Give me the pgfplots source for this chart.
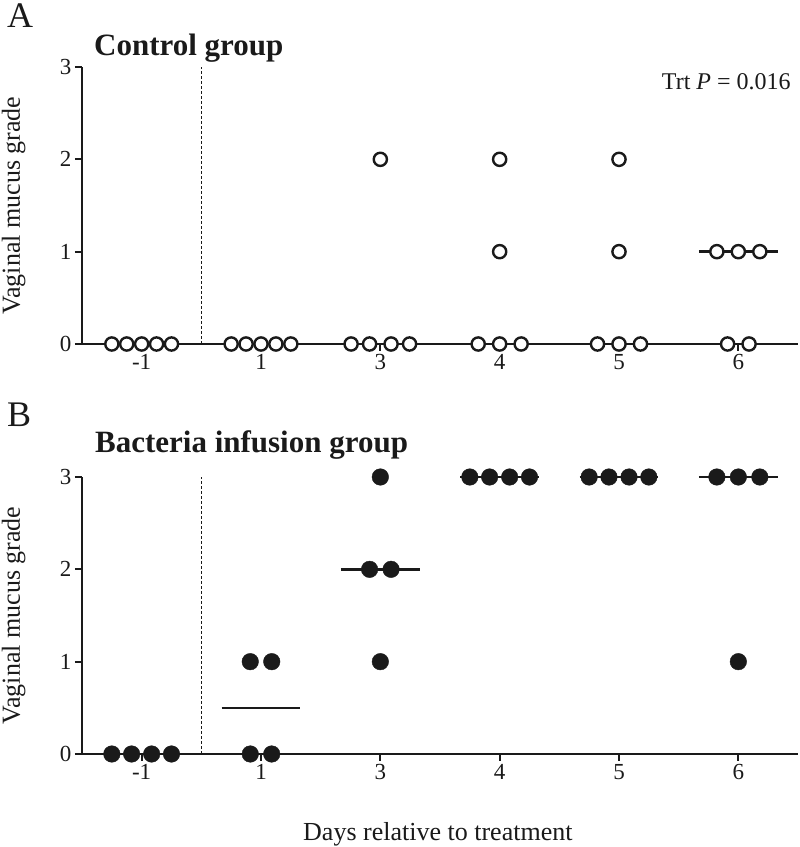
\documentclass[border=0pt]{standalone}
\usepackage{fontspec}
\setmainfont{Liberation Serif}
\usepackage{pgfplots}
\pgfplotsset{compat=1.18}
\definecolor{ink}{HTML}{1A1A1A}
\pgfplotsset{
  panel/.style={
    width=716pt, height=277pt, scale only axis,
    xmin=-0.5, xmax=5.5, ymin=0, ymax=3,
    axis x line*=bottom, axis y line*=left,
    axis line style={line width=2.5pt, ink},
    xtick={0,1,2,3,4,5}, xticklabels={-1,1,3,4,5,6},
    ytick={0,1,2,3}, yticklabels={0,1,2,3},
    tick align=outside, major tick length=7pt,
    tick style={line width=2.2pt, ink},
    tick label style={font=\fontsize{23}{25}\selectfont, text=ink},
    clip=false,
    ylabel={Vaginal mucus grade},
    ylabel style={font=\fontsize{26}{28}\selectfont, text=ink, at={(axis description cs:-0.0956,0.5)}, anchor=center},
  },
  ctl/.style={only marks, mark=*, mark size=6.6pt, mark options={fill=white, draw=ink, line width=2.4pt}},
  bac/.style={only marks, mark=*, mark size=8.3pt, mark options={fill=ink, draw=ink}},
  med/.style={line width=2.5pt, ink},
  vdash/.style={ink, line width=1.1pt, dash pattern=on 3pt off 2pt},
}
\begin{document}
\begin{tikzpicture}
\useasboundingbox (0,0) rectangle (800pt,847pt);

% ---------------- Panel A ----------------
\begin{axis}[panel, at={(82pt,503pt)}, anchor=south west]
\addplot[vdash] coordinates {(0.5,0) (0.5,3)};
\addplot[med] coordinates {(-0.33,0) (0.33,0)};
\addplot[med] coordinates {(0.67,0) (1.33,0)};
\addplot[med] coordinates {(1.67,0) (2.33,0)};
\addplot[med] coordinates {(2.67,0) (3.33,0)};
\addplot[med] coordinates {(3.67,0) (4.33,0)};
\addplot[med] coordinates {(4.67,1) (5.33,1)};
\addplot[ctl] coordinates {
 (-0.25,0) (-0.125,0) (0,0) (0.125,0) (0.25,0)
 (0.75,0) (0.875,0) (1,0) (1.125,0) (1.25,0)
 (2,2) (1.755,0) (1.91,0) (2.09,0) (2.245,0)
 (3,2) (3,1) (2.82,0) (3,0) (3.18,0)
 (4,2) (4,1) (3.82,0) (4,0) (4.18,0)
 (4.82,1) (5,1) (5.18,1) (4.91,0) (5.09,0)
};
\node[anchor=base west, font=\bfseries\fontsize{31}{33}\selectfont, text=ink, inner sep=0pt] at (rel axis cs:0.0168,1.043) {Control group};
\node[anchor=base east, font=\fontsize{24}{26}\selectfont, text=ink, inner sep=0pt] at (rel axis cs:0.990,0.917) {Trt \textit{P} = 0.016};
\end{axis}

% ---------------- Panel B ----------------
\begin{axis}[panel, at={(82pt,93pt)}, anchor=south west,
  xlabel={Days relative to treatment},
  xlabel style={font=\fontsize{26}{28}\selectfont, text=ink, at={(axis description cs:0.497,-0.3105)}, anchor=base, inner sep=0pt}]
\addplot[vdash] coordinates {(0.5,0) (0.5,3)};
\addplot[med] coordinates {(-0.33,0) (0.33,0)};
\addplot[med] coordinates {(0.67,0.5) (1.33,0.5)};
\addplot[med] coordinates {(1.67,2) (2.33,2)};
\addplot[med] coordinates {(2.67,3) (3.33,3)};
\addplot[med] coordinates {(3.67,3) (4.33,3)};
\addplot[med] coordinates {(4.67,3) (5.33,3)};
\addplot[bac] coordinates {
 (-0.25,0) (-0.084,0) (0.084,0) (0.25,0)
 (0.91,1) (1.09,1) (0.91,0) (1.09,0)
 (2,3) (1.91,2) (2.09,2) (2,1)
 (2.75,3) (2.916,3) (3.084,3) (3.25,3)
 (3.75,3) (3.916,3) (4.084,3) (4.25,3)
 (4.82,3) (5,3) (5.18,3) (5,1)
};
\node[anchor=base west, font=\bfseries\fontsize{31}{33}\selectfont, text=ink, inner sep=0pt] at (rel axis cs:0.018,1.090) {Bacteria infusion group};
\end{axis}

% panel letters
\node[anchor=base west, font=\fontsize{36}{38}\selectfont, text=ink, inner sep=0pt] at (7pt,819pt) {A};
\node[anchor=base west, font=\fontsize{36}{38}\selectfont, text=ink, inner sep=0pt] at (7pt,420pt) {B};
\end{tikzpicture}
\end{document}
